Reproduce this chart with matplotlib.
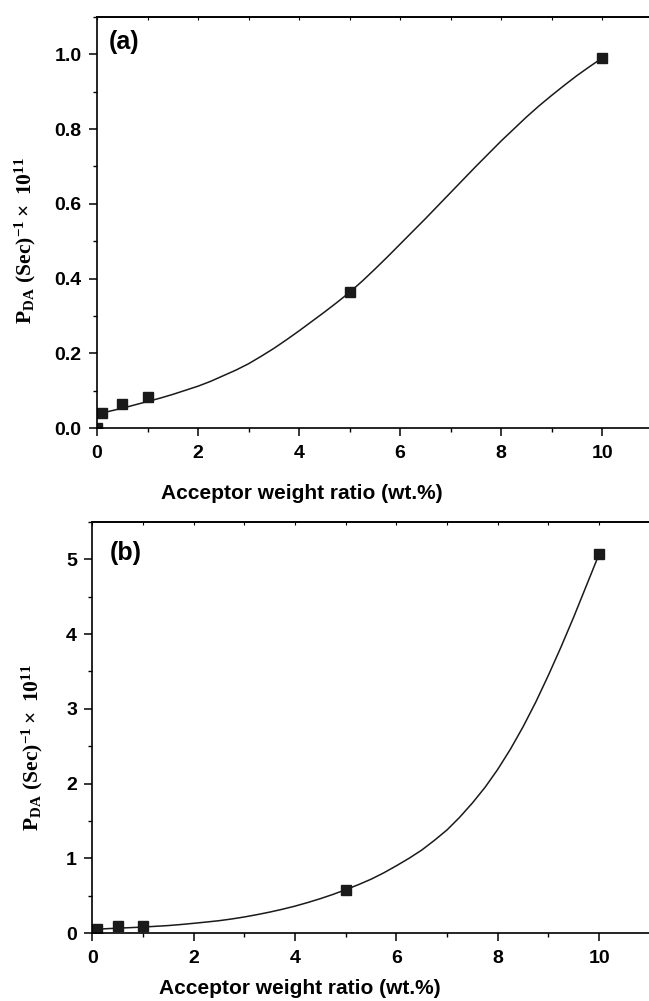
import numpy as np
import matplotlib
matplotlib.use("Agg")
import matplotlib.pyplot as plt
from matplotlib.ticker import MultipleLocator, NullFormatter
from matplotlib import font_manager

# Measured points
x_a = [0, 0.1, 0.5, 1, 5, 10]
y_a = [0.0, 0.041, 0.064, 0.084, 0.363, 0.99]
x_b = [0.1, 0.5, 1, 5, 10]
y_b = [0.05, 0.10, 0.09, 0.58, 5.07]

# Fitted curves, every 0.25 wt.%
fit_x = [0, 0.25, 0.5, 0.75, 1, 1.25, 1.5, 1.75, 2, 2.25, 2.5, 2.75, 3, 3.25,
         3.5, 3.75, 4, 4.25, 4.5, 4.75, 5, 5.25, 5.5, 5.75, 6, 6.25, 6.5,
         6.75, 7, 7.25, 7.5, 7.75, 8, 8.25, 8.5, 8.75, 9, 9.25, 9.5, 9.75, 10]
fit_a = [0.037, 0.045, 0.053, 0.062, 0.071, 0.080, 0.090, 0.101, 0.112, 0.125,
         0.140, 0.155, 0.172, 0.192, 0.213, 0.236, 0.260, 0.285, 0.310, 0.336,
         0.363, 0.393, 0.425, 0.458, 0.492, 0.526, 0.560, 0.595, 0.630, 0.665,
         0.700, 0.734, 0.768, 0.800, 0.832, 0.862, 0.890, 0.917, 0.943, 0.967, 0.990]
fit_b = [0.05, 0.057, 0.065, 0.072, 0.08, 0.09, 0.10, 0.114, 0.13, 0.147,
         0.165, 0.188, 0.215, 0.246, 0.28, 0.318, 0.36, 0.408, 0.46, 0.517,
         0.58, 0.647, 0.72, 0.805, 0.90, 1.00, 1.11, 1.24, 1.38, 1.55,
         1.74, 1.95, 2.19, 2.46, 2.76, 3.09, 3.45, 3.83, 4.23, 4.65, 5.07]

sans = "Liberation Sans Narrow"
names = {f.name for f in font_manager.fontManager.ttflist}
if sans not in names:
    sans = "Liberation Sans"

plt.rcParams['mathtext.fontset'] = 'custom'
plt.rcParams['mathtext.rm'] = 'Liberation Serif:bold'
plt.rcParams['mathtext.bf'] = 'Liberation Serif:bold'
plt.rcParams['mathtext.it'] = 'Liberation Serif:bold'

ylab = r'$\mathrm{P_{DA}\ (Sec)^{-1}\times\ 10^{11}}$'
xlab = 'Acceptor weight ratio (wt.%)'


def style_axes(ax, ymax, ymajor, yminor, yfmt):
    ax.set_xlim(0, 11)
    ax.set_ylim(0, ymax)
    ax.xaxis.set_major_locator(MultipleLocator(2))
    ax.xaxis.set_minor_locator(MultipleLocator(1))
    ax.yaxis.set_major_locator(MultipleLocator(ymajor))
    ax.yaxis.set_minor_locator(MultipleLocator(yminor))
    ax.yaxis.set_major_formatter(yfmt)
    ax.tick_params(axis='both', which='major', direction='out', length=6, width=1.1)
    ax.tick_params(axis='both', which='minor', direction='out', length=3, width=1.0)
    ax.tick_params(axis='x', which='major', pad=6)
    ax.tick_params(axis='y', which='major', pad=5)
    for s in ax.spines.values():
        s.set_linewidth(1.2)
    for lab in ax.get_xticklabels() + ax.get_yticklabels():
        lab.set_fontfamily(sans)
        lab.set_fontweight('bold')
        lab.set_fontsize(14)
    # tiny inward ticks along the top frame
    top = ax.secondary_xaxis('top')
    top.xaxis.set_major_locator(MultipleLocator(1))
    top.xaxis.set_major_formatter(NullFormatter())
    top.tick_params(direction='in', length=2, width=0.8)
    top.spines['top'].set_linewidth(1.2)


fig = plt.figure(figsize=(6.49, 10.01), dpi=100)

# Panel (a)
ax_a = fig.add_axes([0.1495, 0.5724, 0.856, 0.4106])
ax_a.plot(fit_x, fit_a, color='#1a1a1a', lw=1.1)
ax_a.plot(x_a, y_a, 's', color='#1a1a1a', ms=7)
style_axes(ax_a, 1.1, 0.2, 0.1, '{x:.1f}')
ax_a.set_xlabel(xlab, fontfamily=sans, fontweight='bold', fontsize=15)
ax_a.xaxis.set_label_coords(0.369, -0.137)
ax_a.set_ylabel(ylab, fontsize=15.5)
ax_a.yaxis.set_label_coords(-0.106, 0.457)
ax_a.text(0.022, 0.939, '(a)', transform=ax_a.transAxes, va='center',
          fontfamily=sans, fontweight='bold', fontsize=18)

# Panel (b)
ax_b = fig.add_axes([0.1422, 0.0679, 0.859, 0.4106])
ax_b.plot(fit_x, fit_b, color='#1a1a1a', lw=1.1)
ax_b.plot(x_b, y_b, 's', color='#1a1a1a', ms=7)
style_axes(ax_b, 5.5, 1, 0.5, '{x:.0f}')
ax_b.set_xlabel(xlab, fontfamily=sans, fontweight='bold', fontsize=15)
ax_b.xaxis.set_label_coords(0.373, -0.112)
ax_b.set_ylabel(ylab, fontsize=15.5)
ax_b.yaxis.set_label_coords(-0.085, 0.452)
ax_b.text(0.032, 0.925, '(b)', transform=ax_b.transAxes, va='center',
          fontfamily=sans, fontweight='bold', fontsize=18)

fig.savefig('out.png', dpi=100)
